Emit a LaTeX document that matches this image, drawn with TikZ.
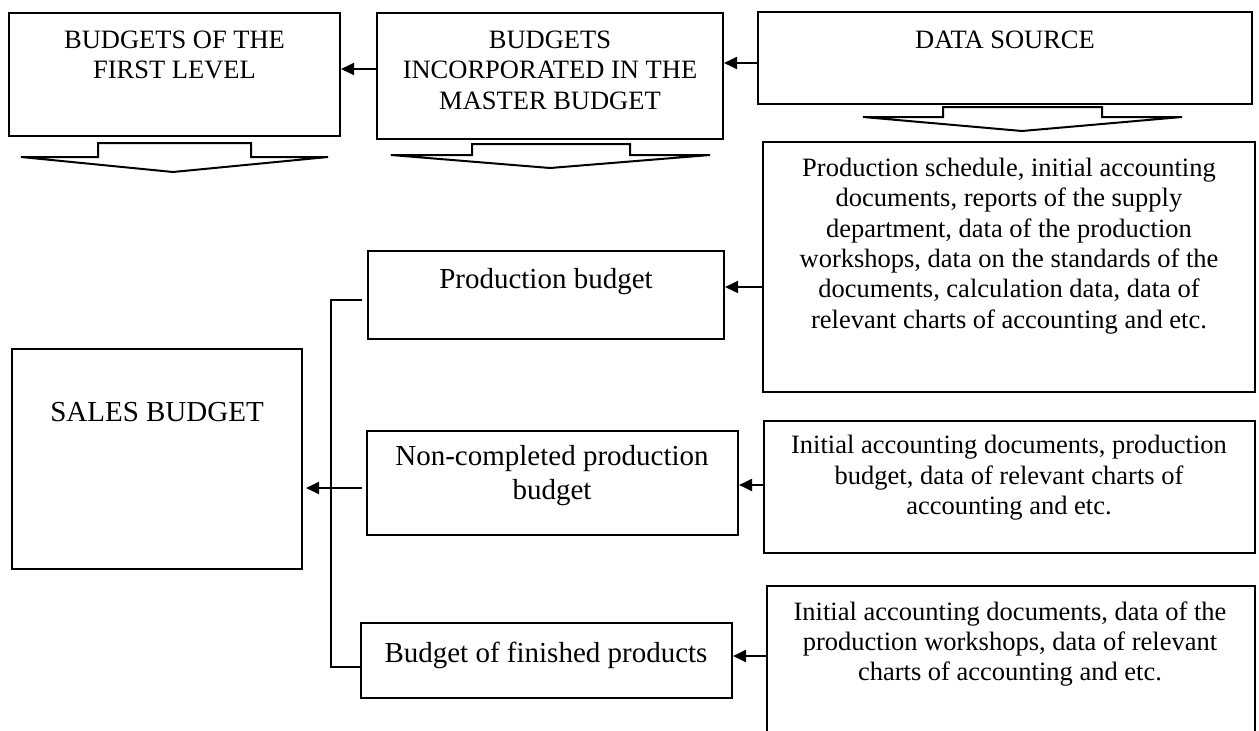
\documentclass[tikz,border=0pt]{standalone}
\usepackage{fontspec}
\setmainfont{Liberation Serif}
\usetikzlibrary{arrows.meta,fit}

\begin{document}
\begin{tikzpicture}[x=1pt,y=-1pt,
  box/.style={draw, line width=2.1pt, inner sep=0pt},
  lbl/.style={align=center, font=\fontsize{26.5}{30.4}\selectfont, inner sep=0pt},
  blbl/.style={align=center, font=\fontsize{29}{34}\selectfont, inner sep=0pt},
  link/.style={line width=2pt},
  arr/.style={link, -{Triangle[length=13pt,width=12pt]}},
  blockarrow/.style={draw, line width=2pt, line join=miter, fill=white}]
\useasboundingbox (0,0) rectangle (1259,731);

% ---- header row ----
\node[box, fit={(9,13) (340,136)}] (first) {};
\node[box, fit={(377,13) (723,139)}] (master) {};
\node[box, fit={(758,12) (1252,104)}] (source) {};
\node[lbl] (firstT) at (174.5,55) {BUDGETS OF THE\\FIRST LEVEL};
\node[lbl] (masterT) at (550,70) {BUDGETS\\INCORPORATED IN THE\\MASTER BUDGET};
\node[lbl] (sourceT) at (1005,40) {DATA SOURCE};

% ---- wide downward block arrows under the headers ----
\draw[blockarrow] (21,157) -- (98,157) -- (98,143) -- (251,143) -- (251,157)
  -- (328,157) -- (173,172) -- cycle;
\draw[blockarrow] (391,155) -- (472,155) -- (472,144) -- (630,144) -- (630,155)
  -- (710,155) -- (550,168) -- cycle;
\draw[blockarrow] (863,117) -- (943,117) -- (943,107) -- (1102,107) -- (1102,117)
  -- (1182,117) -- (1022,131) -- cycle;

% ---- budgets ----
\node[box, fit={(12,349) (302,569)}] (sales) {};
\node[box, fit={(368,251) (724,339)}] (prod) {};
\node[box, fit={(367,431) (738,535)}] (wip) {};
\node[box, fit={(361,623) (732,698)}] (fin) {};
\node[blbl] (salesT) at (157,412) {SALES BUDGET};
\node[blbl] (prodT) at (546,282) {Production budget};
\node[blbl] (wipT) at (552,476) {Non-completed production\\budget};
\node[blbl] (finT) at (546,655) {Budget of finished products};

% ---- data sources ----
\node[box, fit={(763,142) (1255,392)}] (srcA) {};
\node[box, fit={(764,421) (1255,553)}] (srcB) {};
\node[box, fit={(767,586) (1255,760)}] (srcC) {};
\node[lbl] (srcAT) at (1009,246) {Production schedule, initial accounting\\
  documents, reports of the supply\\department, data of the production\\
  workshops, data on the standards of the\\documents, calculation data, data of\\
  relevant charts of accounting and etc.};
\node[lbl] (srcBT) at (1009,478) {Initial accounting documents, production\\
  budget, data of relevant charts of\\accounting and etc.};
\node[lbl] (srcCT) at (1010,644) {Initial accounting documents, data of the\\
  production workshops, data of relevant\\charts of accounting and etc.};

% ---- connectors ----
\draw[arr] (master.west |- 0,69) -- (first.east |- 0,69);
\draw[arr] (source.west |- 0,63) -- (master.east |- 0,63);
\draw[arr] (srcA.west |- 0,287) -- (prod.east |- 0,287);
\draw[arr] (srcB.west |- 0,485) -- (wip.east |- 0,485);
\draw[arr] (srcC.west |- 0,656) -- (fin.east |- 0,656);
\draw[arr, shorten <=4pt, shorten >=3pt] (wip.west |- 0,488) -- (sales.east |- 0,488);
\coordinate (bTop) at (331,300);
\coordinate (bBot) at (331,667);
\draw[link, shorten <=5pt] (prod.west |- bTop) -- (bTop) -- (bBot) -- (fin.west |- bBot);
\end{tikzpicture}
\end{document}
